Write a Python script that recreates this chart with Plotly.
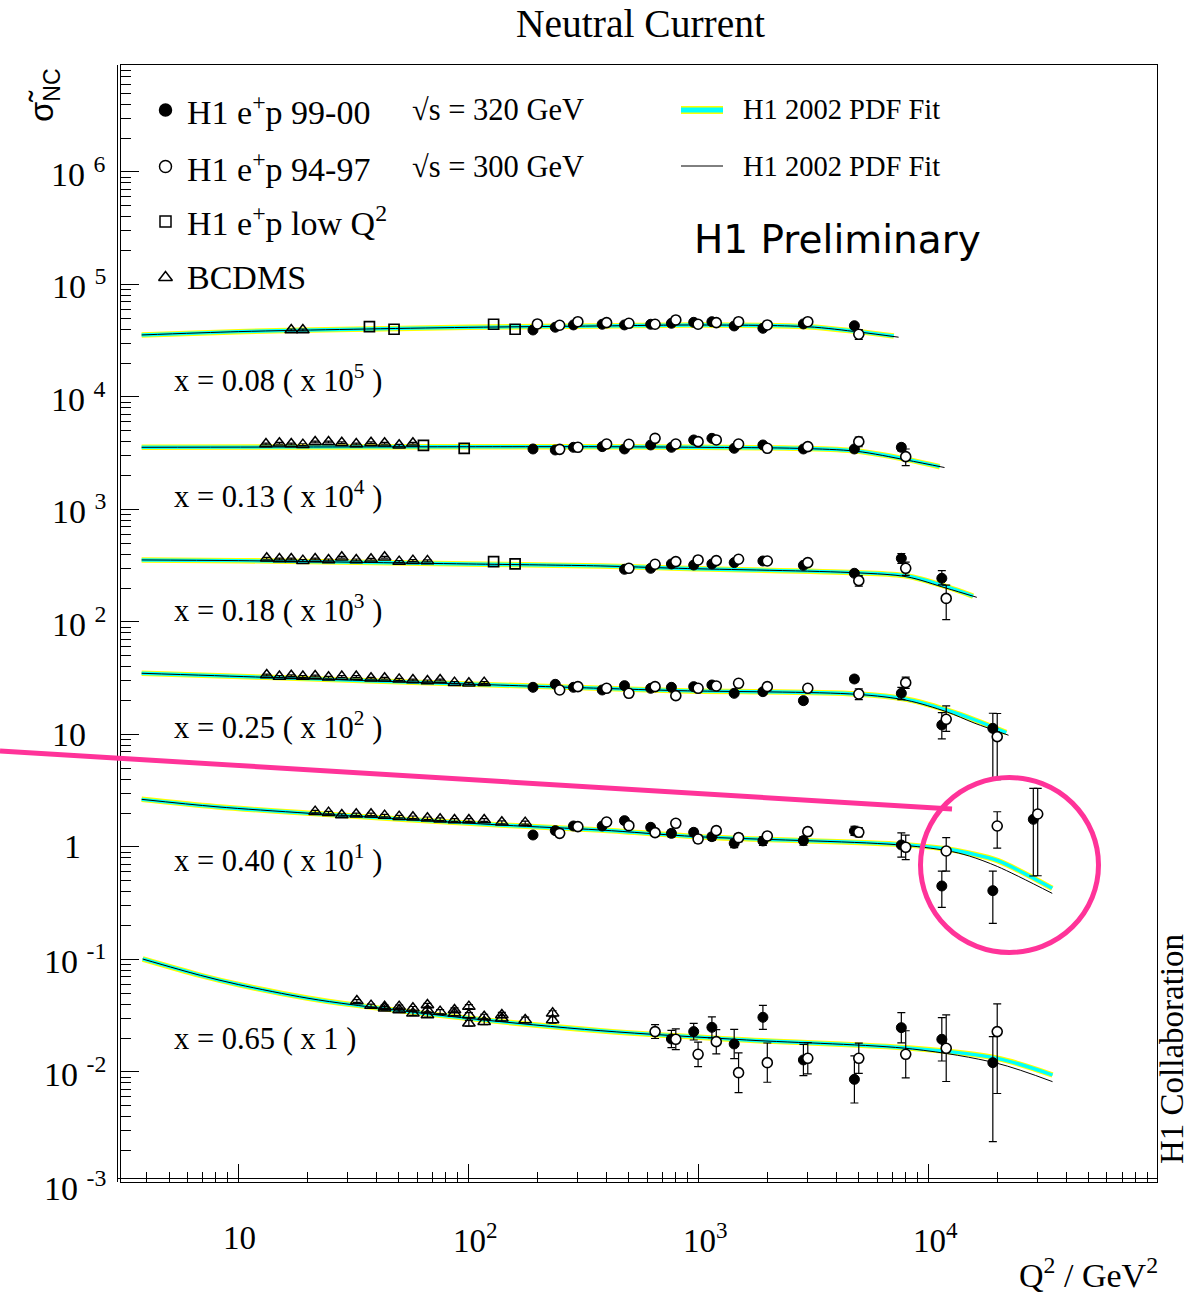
import plotly.graph_objects as go

# ====================== DATA ======================
# Reduced NC cross section sigma_r(x, Q2); each x-bin is displayed multiplied by 10^SCALE_EXP
X_BIN_LABELS = ["0.08", "0.13", "0.18", "0.25", "0.40", "0.65"]
SCALE_EXP = [5, 4, 3, 2, 1, 0]

# ---------- x = 0.08 ----------
Q2_NEW_008 = [200, 250, 300, 400, 500, 650, 800, 1000, 1200, 1500, 2000, 3000, 5000]
SIG_NEW_008 = [0.394, 0.417, 0.437, 0.443, 0.437, 0.443, 0.452, 0.461, 0.467, 0.428, 0.408, 0.446, 0.430]
EUP_NEW_008 = [0.012, 0.012, 0.013, 0.013, 0.013, 0.013, 0.014, 0.014, 0.015, 0.014, 0.014, 0.016, 0.020]
EDN_NEW_008 = [0.012, 0.012, 0.013, 0.013, 0.013, 0.013, 0.014, 0.014, 0.015, 0.014, 0.014, 0.016, 0.020]
Q2_OLD_008 = [200, 250, 300, 400, 500, 650, 800, 1000, 1200, 1500, 2000, 3000, 5000]
SIG_OLD_008 = [0.446, 0.434, 0.467, 0.458, 0.452, 0.443, 0.484, 0.443, 0.458, 0.467, 0.437, 0.467, 0.361]
EUP_OLD_008 = [0.013, 0.013, 0.014, 0.014, 0.014, 0.014, 0.015, 0.015, 0.016, 0.016, 0.017, 0.020, 0.036]
EDN_OLD_008 = [0.013, 0.013, 0.014, 0.014, 0.014, 0.014, 0.015, 0.015, 0.016, 0.016, 0.017, 0.020, 0.036]
Q2_LOW_008 = [37.2, 47.6, 129, 160]
SIG_LOW_008 = [0.422, 0.400, 0.443, 0.400]
Q2_BCD_008 = [17.0, 19.1]
SIG_BCD_008 = [0.394, 0.394]
E_BCD_008 = [0.008, 0.008]
FIT320_Q2_008 = [3.8, 10, 31.6, 100, 375, 1020, 3000, 5000, 7100]
FIT320_SIG_008 = [0.356, 0.381, 0.400, 0.416, 0.428, 0.4365, 0.422, 0.381, 0.348]
FIT300_Q2_008 = [3.8, 10, 31.6, 100, 375, 1020, 3000, 5000, 7450]
FIT300_SIG_008 = [0.356, 0.381, 0.400, 0.416, 0.428, 0.4365, 0.421, 0.378, 0.340]

# ---------- x = 0.13 ----------
Q2_NEW_013 = [200, 250, 300, 400, 500, 650, 800, 1000, 1200, 1500, 2000, 3000, 5000, 8000]
SIG_NEW_013 = [0.345, 0.338, 0.357, 0.362, 0.345, 0.3745, 0.357, 0.415, 0.429, 0.350, 0.3745, 0.345, 0.345, 0.357]
EUP_NEW_013 = [0.010, 0.010, 0.011, 0.011, 0.011, 0.012, 0.012, 0.013, 0.014, 0.013, 0.014, 0.015, 0.018, 0.025]
EDN_NEW_013 = [0.010, 0.010, 0.011, 0.011, 0.011, 0.012, 0.012, 0.013, 0.014, 0.013, 0.014, 0.015, 0.018, 0.025]
Q2_OLD_013 = [250, 300, 400, 500, 650, 800, 1000, 1200, 1500, 2000, 3000, 5000, 8000]
SIG_OLD_013 = [0.3425, 0.357, 0.382, 0.380, 0.429, 0.382, 0.401, 0.415, 0.382, 0.350, 0.362, 0.401, 0.295]
EUP_OLD_013 = [0.011, 0.011, 0.012, 0.012, 0.014, 0.013, 0.014, 0.015, 0.015, 0.016, 0.018, 0.040, 0.050]
EDN_OLD_013 = [0.011, 0.011, 0.012, 0.012, 0.014, 0.013, 0.014, 0.015, 0.015, 0.016, 0.018, 0.040, 0.050]
Q2_LOW_013 = [63.9, 96.1]
SIG_LOW_013 = [0.372, 0.350]
Q2_BCD_013 = [13.2, 15.1, 17.0, 19.1, 21.6, 24.7, 28.2, 32.6, 37.8, 43.3, 50.1, 57.5]
SIG_BCD_013 = [0.382, 0.388, 0.382, 0.377, 0.398, 0.398, 0.392, 0.382, 0.392, 0.388, 0.372, 0.388]
E_BCD_013 = [0.007, 0.007, 0.007, 0.007, 0.007, 0.007, 0.007, 0.007, 0.007, 0.007, 0.007, 0.007]
FIT320_Q2_013 = [3.8, 30, 138, 375, 1020, 2780, 4900, 8070, 11240]
FIT320_SIG_013 = [0.357, 0.360, 0.3615, 0.3615, 0.357, 0.350, 0.331, 0.279, 0.240]
FIT300_Q2_013 = [3.8, 30, 138, 375, 1020, 2780, 4900, 8070, 11800]
FIT300_SIG_013 = [0.357, 0.360, 0.3615, 0.3615, 0.357, 0.349, 0.329, 0.275, 0.236]

# ---------- x = 0.18 ----------
Q2_NEW_018 = [500, 650, 800, 1000, 1200, 1500, 2000, 3000, 5000, 8000, 12000]
SIG_NEW_018 = [0.294, 0.300, 0.328, 0.321, 0.328, 0.337, 0.3485, 0.319, 0.271, 0.368, 0.2445]
EUP_NEW_018 = [0.010, 0.010, 0.011, 0.011, 0.011, 0.012, 0.013, 0.013, 0.015, 0.038, 0.042]
EDN_NEW_018 = [0.010, 0.010, 0.011, 0.011, 0.011, 0.012, 0.013, 0.013, 0.015, 0.036, 0.031]
Q2_OLD_018 = [500, 650, 800, 1000, 1200, 1500, 2000, 3000, 5000, 8000, 12000]
SIG_OLD_018 = [0.300, 0.326, 0.344, 0.356, 0.351, 0.361, 0.3485, 0.337, 0.233, 0.300, 0.162]
EUP_OLD_018 = [0.010, 0.011, 0.012, 0.012, 0.012, 0.013, 0.013, 0.014, 0.025, 0.040, 0.051]
EDN_OLD_018 = [0.010, 0.011, 0.012, 0.012, 0.012, 0.013, 0.013, 0.014, 0.025, 0.040, 0.057]
Q2_LOW_018 = [129, 160]
SIG_LOW_018 = [0.344, 0.328]
Q2_BCD_018 = [13.3, 15.1, 17.0, 19.1, 21.6, 24.7, 28.2, 32.6, 37.8, 43.3, 50.1, 57.5, 66.5]
SIG_BCD_018 = [0.368, 0.363, 0.363, 0.351, 0.363, 0.356, 0.376, 0.356, 0.361, 0.376, 0.344, 0.351, 0.349]
E_BCD_018 = [0.007, 0.007, 0.007, 0.007, 0.007, 0.007, 0.007, 0.007, 0.007, 0.007, 0.007, 0.007, 0.007]
FIT320_Q2_018 = [3.8, 10, 100, 375, 823, 4900, 8100, 12000, 15700]
FIT320_SIG_018 = [0.356, 0.351, 0.328, 0.315, 0.300, 0.2745, 0.2563, 0.206, 0.170]
FIT300_Q2_018 = [3.8, 10, 100, 375, 823, 4900, 8100, 12000, 16300]
FIT300_SIG_018 = [0.356, 0.351, 0.328, 0.315, 0.300, 0.2735, 0.252, 0.200, 0.1657]

# ---------- x = 0.25 ----------
Q2_NEW_025 = [200, 250, 300, 400, 500, 650, 800, 1000, 1200, 1500, 2000, 3000, 5000, 8000, 12000, 20000]
SIG_NEW_025 = [0.2626, 0.2793, 0.2626, 0.2486, 0.2717, 0.2573, 0.2626, 0.2662, 0.2754, 0.2322, 0.2402, 0.1998, 0.3114, 0.2322, 0.1215, 0.1134]
EUP_NEW_025 = [0.008, 0.008, 0.008, 0.008, 0.009, 0.009, 0.009, 0.010, 0.010, 0.010, 0.011, 0.012, 0.020, 0.030, 0.035, 0.041]
EDN_NEW_025 = [0.008, 0.008, 0.008, 0.008, 0.009, 0.009, 0.009, 0.010, 0.010, 0.010, 0.011, 0.012, 0.020, 0.028, 0.030, 0.074]
Q2_OLD_025 = [250, 300, 400, 500, 650, 800, 1000, 1200, 1500, 2000, 3000, 5000, 8000, 12000, 20000]
SIG_OLD_025 = [0.2486, 0.2662, 0.2573, 0.2322, 0.2662, 0.2215, 0.2573, 0.2698, 0.285, 0.2662, 0.2573, 0.2291, 0.2889, 0.1364, 0.0957]
EUP_OLD_025 = [0.008, 0.008, 0.008, 0.008, 0.009, 0.009, 0.009, 0.010, 0.011, 0.012, 0.013, 0.025, 0.035, 0.043, 0.058]
EDN_OLD_025 = [0.008, 0.008, 0.008, 0.008, 0.009, 0.009, 0.009, 0.010, 0.011, 0.012, 0.013, 0.025, 0.032, 0.030, 0.056]
Q2_LOW_025 = []
SIG_LOW_025 = []
Q2_BCD_025 = [13.3, 15.1, 17.0, 19.1, 21.6, 24.7, 28.2, 32.6, 37.8, 43.3, 50.1, 57.5, 66.5, 75.5, 87.2, 100.7, 117.4]
SIG_BCD_025 = [0.338, 0.327, 0.333, 0.327, 0.331, 0.322, 0.327, 0.327, 0.316, 0.316, 0.309, 0.305, 0.299, 0.305, 0.289, 0.285, 0.289]
E_BCD_025 = [0.006, 0.006, 0.006, 0.006, 0.006, 0.006, 0.006, 0.006, 0.006, 0.006, 0.006, 0.006, 0.006, 0.006, 0.006, 0.006, 0.006]
FIT320_Q2_025 = [3.8, 13.3, 98, 375, 823, 4900, 8100, 12000, 16000, 21900]
FIT320_SIG_025 = [0.350, 0.322, 0.281, 0.2573, 0.2453, 0.2291, 0.2054, 0.1652, 0.1345, 0.104]
FIT300_Q2_025 = [3.8, 13.3, 98, 375, 823, 4900, 8100, 12000, 16000, 22400]
FIT300_SIG_025 = [0.350, 0.322, 0.281, 0.2573, 0.2453, 0.2275, 0.201, 0.1596, 0.1257, 0.0985]

# ---------- x = 0.40 ----------
Q2_NEW_040 = [200, 250, 300, 400, 500, 650, 800, 1000, 1200, 1500, 2000, 3000, 5000, 8000, 12000, 20000, 30000]
SIG_NEW_040 = [0.1278, 0.1397, 0.1537, 0.1537, 0.1714, 0.1496, 0.1322, 0.135, 0.1235, 0.1078, 0.1131, 0.1139, 0.1388, 0.1042, 0.045, 0.0409, 0.1762]
EUP_NEW_040 = [0.008, 0.008, 0.009, 0.009, 0.010, 0.009, 0.009, 0.009, 0.009, 0.009, 0.010, 0.010, 0.014, 0.029, 0.016, 0.020, 0.156]
EDN_NEW_040 = [0.008, 0.008, 0.009, 0.009, 0.010, 0.009, 0.009, 0.009, 0.009, 0.009, 0.010, 0.010, 0.012, 0.023, 0.016, 0.020, 0.121]
Q2_OLD_040 = [250, 300, 400, 500, 650, 800, 1000, 1200, 1500, 2000, 3000, 5000, 8000, 12000, 20000, 30000]
SIG_OLD_040 = [0.1322, 0.1516, 0.1668, 0.1547, 0.1341, 0.1623, 0.1178, 0.1397, 0.121, 0.1252, 0.1369, 0.135, 0.0993, 0.0921, 0.1537, 0.1965]
EUP_OLD_040 = [0.008, 0.009, 0.010, 0.010, 0.009, 0.010, 0.009, 0.010, 0.010, 0.010, 0.011, 0.014, 0.028, 0.029, 0.052, 0.136]
EDN_OLD_040 = [0.008, 0.009, 0.010, 0.010, 0.009, 0.010, 0.009, 0.010, 0.010, 0.010, 0.011, 0.012, 0.022, 0.031, 0.056, 0.141]
Q2_LOW_040 = []
SIG_LOW_040 = []
Q2_BCD_040 = [21.6, 24.7, 28.2, 32.6, 37.8, 43.3, 50.1, 57.5, 66.5, 75.5, 87.2, 100.7, 117.4, 140.1, 177]
SIG_BCD_040 = [0.2061, 0.2019, 0.1925, 0.1951, 0.1951, 0.19, 0.1861, 0.1836, 0.1798, 0.1762, 0.1738, 0.1738, 0.1738, 0.1657, 0.1646]
E_BCD_040 = [0.005, 0.005, 0.005, 0.005, 0.005, 0.005, 0.005, 0.005, 0.005, 0.005, 0.005, 0.005, 0.005, 0.005, 0.005]
FIT320_Q2_040 = [3.8, 8.0, 20.6, 138, 375, 993, 7200, 12030, 15140, 20100, 34700]
FIT320_SIG_040 = [0.2652, 0.228, 0.199, 0.1568, 0.1416, 0.1235, 0.1060, 0.0960, 0.0879, 0.0756, 0.0429]
FIT300_Q2_040 = [3.8, 8.0, 20.6, 138, 375, 993, 7200, 12030, 15140, 20100, 34700]
FIT300_SIG_040 = [0.2652, 0.228, 0.199, 0.1568, 0.1416, 0.1235, 0.1050, 0.0930, 0.0830, 0.0669, 0.0387]

# ---------- x = 0.65 ----------
Q2_NEW_065 = [800, 1000, 1200, 1500, 2000, 3000, 5000, 8000, 12000, 20000]
SIG_NEW_065 = [0.01965, 0.02284, 0.02494, 0.01774, 0.03062, 0.01279, 0.0086, 0.02477, 0.01952, 0.0121]
EUP_NEW_065 = [0.0038, 0.0042, 0.0059, 0.0062, 0.0085, 0.0048, 0.0053, 0.0089, 0.0109, 0.0085]
EDN_NEW_065 = [0.0032, 0.0036, 0.0048, 0.0046, 0.0067, 0.0035, 0.0033, 0.0066, 0.0070, 0.0097]
Q2_OLD_065 = [650, 800, 1000, 1200, 1500, 2000, 3000, 5000, 8000, 12000, 20000]
SIG_OLD_065 = [0.02284, 0.01952, 0.01436, 0.01861, 0.00986, 0.0121, 0.01323, 0.01323, 0.01436, 0.01623, 0.02284]
EUP_OLD_065 = [0.0035, 0.0046, 0.0041, 0.0052, 0.0049, 0.0060, 0.0050, 0.0048, 0.0089, 0.0159, 0.0174]
EDN_OLD_065 = [0.0030, 0.0037, 0.0032, 0.0041, 0.0033, 0.0040, 0.0036, 0.0035, 0.0055, 0.0080, 0.0164]
Q2_LOW_065 = []
SIG_LOW_065 = []
Q2_BCD_065 = [32.8, 37.8, 43.3, 43.3, 50.1, 50.1, 57.5, 57.5, 66.5, 66.5, 66.5, 75.5, 87.2, 87.2,
              100.7, 100.7, 100.7, 117.4, 117.4, 140.1, 140.1, 177, 233, 233]
SIG_BCD_065 = [0.0428, 0.0389, 0.0381, 0.0368, 0.0381, 0.0356, 0.0368, 0.0332, 0.0394, 0.0356, 0.0321, 0.0344,
               0.0356, 0.0332, 0.0381, 0.0321, 0.0271, 0.0310, 0.0280, 0.0321, 0.0300, 0.0290, 0.0332, 0.0290]
E_BCD_065 = [0.0012, 0.0012, 0.0013, 0.0013, 0.0013, 0.0013, 0.0014, 0.0014, 0.0014, 0.0014, 0.0014, 0.0015,
             0.0015, 0.0015, 0.0016, 0.0016, 0.0016, 0.0016, 0.0016, 0.0017, 0.0017, 0.0017, 0.0018, 0.0018]
FIT320_Q2_065 = [3.84, 6.84, 10, 19.9, 31.7, 100, 375, 1627, 8570, 20000, 34800]
FIT320_SIG_065 = [0.101, 0.0723, 0.0599, 0.0454, 0.0395, 0.030, 0.0233, 0.01925, 0.01623, 0.01323, 0.0094]
FIT300_Q2_065 = [3.84, 6.84, 10, 19.9, 31.7, 100, 375, 1627, 8570, 20000, 34800]
FIT300_SIG_065 = [0.101, 0.0723, 0.0599, 0.0454, 0.0395, 0.030, 0.0233, 0.01925, 0.0160, 0.01194, 0.0082]

# axis ticks
X_MAJOR = [10, 100, 1000, 10000]
Y_MAJOR_EXP = [6, 5, 4, 3, 2, 1, 0, -1, -2, -3]

# ====================== STYLE / LAYOUT ======================
FONT = "Liberation Serif"
W, H = 1193, 1294
L, R, T, B = 121, 1157, 65, 1182           # plot area in px
XR = [0.49, 4.996]
YR = [-2.978, 6.951]
NEW_SHIFT = 0.957                           # filled points drawn slightly left (as in original)
YELLOW, CYAN, PINK = "#ffff00", "#00ffff", "#ff3399"


def px(x):
    return (x - L) / (R - L)


def py(y):
    return (B - y) / (B - T)


BINS = [
    (Q2_NEW_008, SIG_NEW_008, EUP_NEW_008, EDN_NEW_008, Q2_OLD_008, SIG_OLD_008, EUP_OLD_008, EDN_OLD_008,
     Q2_LOW_008, SIG_LOW_008, Q2_BCD_008, SIG_BCD_008, E_BCD_008,
     FIT320_Q2_008, FIT320_SIG_008, FIT300_Q2_008, FIT300_SIG_008),
    (Q2_NEW_013, SIG_NEW_013, EUP_NEW_013, EDN_NEW_013, Q2_OLD_013, SIG_OLD_013, EUP_OLD_013, EDN_OLD_013,
     Q2_LOW_013, SIG_LOW_013, Q2_BCD_013, SIG_BCD_013, E_BCD_013,
     FIT320_Q2_013, FIT320_SIG_013, FIT300_Q2_013, FIT300_SIG_013),
    (Q2_NEW_018, SIG_NEW_018, EUP_NEW_018, EDN_NEW_018, Q2_OLD_018, SIG_OLD_018, EUP_OLD_018, EDN_OLD_018,
     Q2_LOW_018, SIG_LOW_018, Q2_BCD_018, SIG_BCD_018, E_BCD_018,
     FIT320_Q2_018, FIT320_SIG_018, FIT300_Q2_018, FIT300_SIG_018),
    (Q2_NEW_025, SIG_NEW_025, EUP_NEW_025, EDN_NEW_025, Q2_OLD_025, SIG_OLD_025, EUP_OLD_025, EDN_OLD_025,
     Q2_LOW_025, SIG_LOW_025, Q2_BCD_025, SIG_BCD_025, E_BCD_025,
     FIT320_Q2_025, FIT320_SIG_025, FIT300_Q2_025, FIT300_SIG_025),
    (Q2_NEW_040, SIG_NEW_040, EUP_NEW_040, EDN_NEW_040, Q2_OLD_040, SIG_OLD_040, EUP_OLD_040, EDN_OLD_040,
     Q2_LOW_040, SIG_LOW_040, Q2_BCD_040, SIG_BCD_040, E_BCD_040,
     FIT320_Q2_040, FIT320_SIG_040, FIT300_Q2_040, FIT300_SIG_040),
    (Q2_NEW_065, SIG_NEW_065, EUP_NEW_065, EDN_NEW_065, Q2_OLD_065, SIG_OLD_065, EUP_OLD_065, EDN_OLD_065,
     Q2_LOW_065, SIG_LOW_065, Q2_BCD_065, SIG_BCD_065, E_BCD_065,
     FIT320_Q2_065, FIT320_SIG_065, FIT300_Q2_065, FIT300_SIG_065),
]

fig = go.Figure()


def sc(vals, k):
    return [v * 10 ** k for v in vals]


ERR_STYLE = dict(color="black", thickness=1.2, width=4)

# fit curves first
for b, k in zip(BINS, SCALE_EXP):
    fq, fs, bq, bs = b[13], b[14], b[15], b[16]
    fig.add_trace(go.Scatter(x=fq, y=sc(fs, k), mode="lines",
                             line=dict(color=YELLOW, width=5.5, shape="spline", smoothing=0.9),
                             hoverinfo="skip", showlegend=False))
    fig.add_trace(go.Scatter(x=fq, y=sc(fs, k), mode="lines",
                             line=dict(color=CYAN, width=3.4, shape="spline", smoothing=0.9),
                             hoverinfo="skip", showlegend=False))
    fig.add_trace(go.Scatter(x=bq, y=sc(bs, k), mode="lines",
                             line=dict(color="black", width=1, shape="spline", smoothing=0.9),
                             hoverinfo="skip", showlegend=False))

# data points
for b, k in zip(BINS, SCALE_EXP):
    (nq, ns, nu, nd, oq, os_, ou, od, lq, ls, cq, cs, ce) = b[:13]
    if cq:
        fig.add_trace(go.Scatter(x=cq, y=sc(cs, k), mode="markers",
                                 marker=dict(symbol="triangle-up-open", size=11, color="black",
                                             line=dict(width=1.5, color="black")),
                                 error_y=dict(type="data", array=sc(ce, k), **ERR_STYLE),
                                 hoverinfo="skip", showlegend=False))
    if lq:
        fig.add_trace(go.Scatter(x=lq, y=sc(ls, k), mode="markers",
                                 marker=dict(symbol="square-open", size=10, color="black",
                                             line=dict(width=1.7, color="black")),
                                 hoverinfo="skip", showlegend=False))
    fig.add_trace(go.Scatter(x=[q * NEW_SHIFT for q in nq], y=sc(ns, k), mode="markers",
                             marker=dict(symbol="circle", size=10, color="black",
                                         line=dict(width=1, color="black")),
                             error_y=dict(type="data", symmetric=False, array=sc(nu, k),
                                          arrayminus=sc(nd, k), **ERR_STYLE),
                             hoverinfo="skip", showlegend=False))
    fig.add_trace(go.Scatter(x=oq, y=sc(os_, k), mode="markers",
                             marker=dict(symbol="circle", size=10, color="white",
                                         line=dict(width=1.6, color="black")),
                             error_y=dict(type="data", symmetric=False, array=sc(ou, k),
                                          arrayminus=sc(od, k), **ERR_STYLE),
                             hoverinfo="skip", showlegend=False))

# ---------------- legend (drawn on an overlay paper-like axis) ----------------
LEG_Y = [py(110), py(166.5), py(221.5), py(277.5)]
LEG_X = px(165.5)
leg_syms = [("circle", "black", 12), ("circle", "white", 12), ("square-open", "black", 11),
            ("triangle-up-open", "black", 12)]
for (sym, col, sz), yy in zip(leg_syms, LEG_Y):
    fig.add_trace(go.Scatter(x=[LEG_X], y=[yy], xaxis="x2", yaxis="y2", mode="markers",
                             marker=dict(symbol=sym, size=sz, color=col if "open" not in sym else "black",
                                         line=dict(width=1.5, color="black")),
                             hoverinfo="skip", showlegend=False))
fig.add_trace(go.Scatter(x=[px(681), px(723)], y=[py(110)] * 2, xaxis="x2", yaxis="y2", mode="lines",
                         line=dict(color=YELLOW, width=8), hoverinfo="skip", showlegend=False))
fig.add_trace(go.Scatter(x=[px(681), px(723)], y=[py(110)] * 2, xaxis="x2", yaxis="y2", mode="lines",
                         line=dict(color=CYAN, width=5), hoverinfo="skip", showlegend=False))
fig.add_trace(go.Scatter(x=[px(681), px(723)], y=[py(166)] * 2, xaxis="x2", yaxis="y2", mode="lines",
                         line=dict(color="black", width=1), hoverinfo="skip", showlegend=False))

ann = []


def text(x, y, s, size, anchor="left", yanchor="middle", family=FONT, angle=0, **kw):
    d = dict(x=x, y=y, xref="paper", yref="paper", text=s, showarrow=False, xanchor=anchor,
             yanchor=yanchor, textangle=angle, font=dict(family=family, size=size, color="black"))
    d.update(kw)
    ann.append(d)


# legend texts
text(px(185), py(110), "H1 e<sup>+</sup>p 99-00", 34)
text(px(185), py(166.5), "H1 e<sup>+</sup>p 94-97", 34)
text(px(185), py(221.5), "H1 e<sup>+</sup>p low Q<sup>2</sup>", 34)
text(px(185), py(277.5), "BCDMS", 34)
text(px(410), py(110), "\u221as = 320 GeV", 30.5)
text(px(410), py(166.5), "\u221as = 300 GeV", 30.5)
text(px(741), py(110), "H1 2002 PDF Fit", 28.5)
text(px(741), py(166.5), "H1 2002 PDF Fit", 28.5)

# bin labels
ROW_LABEL_Y = [378, 494, 608.5, 726, 858, 1039]
for lab, k, yy in zip(X_BIN_LABELS, SCALE_EXP, ROW_LABEL_Y):
    fac = "1" if k == 0 else "10<sup>%d</sup>" % k
    text(px(172), py(yy), "x = %s ( x %s )" % (lab, fac), 30.5)

# titles
text(px(640), py(24), "Neutral Current", 39.5, anchor="center")
text(px(1160), py(1273), "Q<sup>2</sup> / GeV<sup>2</sup>", 34, anchor="right")
text(px(1172), py(1049), "H1 Collaboration", 33, anchor="center", angle=-90, borderpad=0)
text(px(692), py(240), "H1 Preliminary", 39, family="DejaVu Sans")
text(px(44), py(95), "\u03c3\u0303<sub>NC</sub>", 33, anchor="center", angle=-90, family="Liberation Sans")

# y tick labels (ROOT style 10^n)
for e in Y_MAJOR_EXP:
    if e == 1:
        s, xr = "10", 88
    elif e == 0:
        s, xr = "1", 83
    else:
        s, xr = "10 <sup>%d</sup>" % e, 108
    if e >= YR[0]:
        ann.append(dict(x=px(xr), y=e, xref="paper", yref="y", text=s, showarrow=False, xanchor="right",
                        yanchor="middle", font=dict(family=FONT, size=34, color="black")))
    else:  # label sits just below the axis end, as in the original
        ann.append(dict(x=px(xr), y=py(1186), xref="paper", yref="paper", text=s, showarrow=False,
                        xanchor="right", yanchor="middle", font=dict(family=FONT, size=34, color="black")))
# x tick labels
for q in X_MAJOR:
    e = len(str(q)) - 1
    s = "10" if e == 1 else "10<sup>%d</sup>" % e
    ann.append(dict(x=e, y=py(1238), xref="x", yref="paper", text=s, showarrow=False, xanchor="left",
                    xshift=-17, yanchor="middle", font=dict(family=FONT, size=33, color="black")))

shapes = [
    # second frame lines (ROOT double axis look)
    dict(type="line", xref="paper", yref="paper", x0=px(117.5), x1=px(117.5), y0=py(B), y1=1,
         line=dict(color="black", width=1)),
    dict(type="line", xref="paper", yref="paper", x0=px(117.5), x1=1, y0=py(1178.5), y1=py(1178.5),
         line=dict(color="black", width=1)),
    # pink hand-drawn highlight
    dict(type="line", xref="paper", yref="paper", x0=px(0), y0=py(751), x1=px(952), y1=py(809),
         line=dict(color=PINK, width=5)),
    dict(type="circle", xref="paper", yref="paper", x0=px(920.5), x1=px(1098.5), y0=py(952.5), y1=py(777.5),
         line=dict(color=PINK, width=5)),
]

X_MINOR = [m * 10 ** d for d in range(0, 5) for m in range(2, 10) if 3 < m * 10 ** d < 1e5]
Y_MINOR = [m * 10.0 ** d for d in range(-3, 7) for m in range(2, 10)]

fig.update_layout(
    width=W, height=H, margin=dict(l=L, r=W - R, t=T, b=H - B),
    paper_bgcolor="white", plot_bgcolor="white", showlegend=False,
    font=dict(family=FONT, color="black"),
    annotations=ann, shapes=shapes,
    xaxis=dict(type="log", range=XR, showgrid=False, zeroline=False, showline=True, linecolor="black",
               linewidth=1.2, mirror=True, ticks="inside", ticklen=18, tickwidth=1, tickcolor="black",
               tickvals=X_MAJOR, showticklabels=False,
               minor=dict(tickvals=X_MINOR, ticks="inside", ticklen=10, tickwidth=1, tickcolor="black",
                          showgrid=False)),
    yaxis=dict(type="log", range=YR, showgrid=False, zeroline=False, showline=True, linecolor="black",
               linewidth=1.2, mirror=True, ticks="inside", ticklen=18, tickwidth=1, tickcolor="black",
               tickvals=[10.0 ** e for e in Y_MAJOR_EXP], showticklabels=False,
               minor=dict(tickvals=Y_MINOR, ticks="inside", ticklen=10, tickwidth=1, tickcolor="black",
                          showgrid=False)),
    xaxis2=dict(overlaying="x", range=[0, 1], visible=False, anchor="y2"),
    yaxis2=dict(overlaying="y", range=[0, 1], visible=False, anchor="x2"),
)

fig.write_html("out.html")
